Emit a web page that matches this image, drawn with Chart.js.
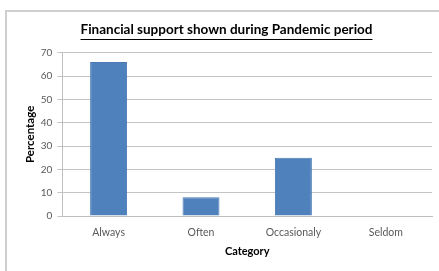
<!DOCTYPE html>
<html>
<head>
<meta charset="utf-8">
<script src="https://cdn.jsdelivr.net/npm/chart.js@4.4.0/dist/chart.umd.min.js"></script>
<style>
  html, body { margin: 0; padding: 0; background: #fff; }
  #frame { position: absolute; left: 5px; top: 10px; width: 460px; height: 290px;
           border: 2px solid #cfcfcf; box-sizing: border-box; }
  #wrap { position: absolute; left: 0; top: 0; width: 439px; height: 271px; }
</style>
</head>
<body>
<div id="frame"></div>
<div id="wrap"><canvas id="bar-chart-category"></canvas></div>
<script>
  var categories = ['Always', 'Often', 'Occasionaly', 'Seldom'];
  var percentages = [66, 8, 25, 0];
  var yTicks = [0, 10, 20, 30, 40, 50, 60, 70];

  var fontName = 'Lato, "Open Sans", sans-serif';
  var titleSize = 13.5;

  // underline under the chart title, like the original
  var underlineTitle = {
    id: 'underlineTitle',
    afterDraw: function(chart) {
      var t = chart.titleBlock;
      if (!t) return;
      var ctx = chart.ctx;
      ctx.save();
      ctx.font = 'bold ' + titleSize + 'px ' + fontName;
      var w = ctx.measureText(chart.options.plugins.title.text).width;
      var cx = (t.left + t.right) / 2;
      var y = t.top + t.height - t.options.padding.bottom + 1;
      ctx.strokeStyle = '#000';
      ctx.lineWidth = 1;
      ctx.beginPath();
      ctx.moveTo(cx - w / 2, Math.round(y) + 0.5);
      ctx.lineTo(cx + w / 2, Math.round(y) + 0.5);
      ctx.stroke();
      ctx.restore();
    }
  };

  var ctx = document.getElementById('bar-chart-category').getContext('2d');
  var chart = new Chart(ctx, {
    type: 'bar',
    data: {
      labels: categories,
      datasets: [{
        label: 'Percentage',
        data: percentages,
        backgroundColor: '#4f81bd',
        borderColor: '#4a7ab3',
        borderWidth: 1,
        barPercentage: 0.4,
        categoryPercentage: 1.0
      }]
    },
    options: {
      responsive: true,
      maintainAspectRatio: false,
      animation: false,
      layout: { padding: { top: 22, right: 7, bottom: 13, left: 21 } },
      plugins: {
        legend: { display: false },
        tooltip: { enabled: false },
        title: {
          display: true,
          text: 'Financial support shown during Pandemic period',
          color: '#000',
          font: { family: fontName, size: titleSize, weight: 'bold' },
          padding: { top: 0, bottom: 14.5 }
        }
      },
      scales: {
        x: {
          grid: { display: false, drawTicks: false },
          border: { color: '#bfbfbf' },
          ticks: { color: '#595959', font: { family: fontName, size: 10.5 }, padding: 10.7 },
          title: { display: true, text: 'Category', color: '#000',
                   font: { family: fontName, size: 11, weight: 'bold' }, padding: { top: -5.2, bottom: 0 } }
        },
        y: {
          min: 0,
          max: 70,
          afterBuildTicks: function(axis) {
            axis.ticks = yTicks.map(function(v) { return { value: v }; });
          },
          grid: { color: '#c4c4c4', tickLength: 5 },
          border: { color: '#bfbfbf' },
          ticks: { color: '#595959', font: { family: fontName, size: 10 }, padding: 5 },
          title: { display: true, text: 'Percentage', color: '#000',
                   font: { family: fontName, size: 11.5, weight: 'bold' }, padding: { top: 2, bottom: -1 } }
        }
      }
    },
    plugins: [underlineTitle]
  });
</script>
</body>
</html>
